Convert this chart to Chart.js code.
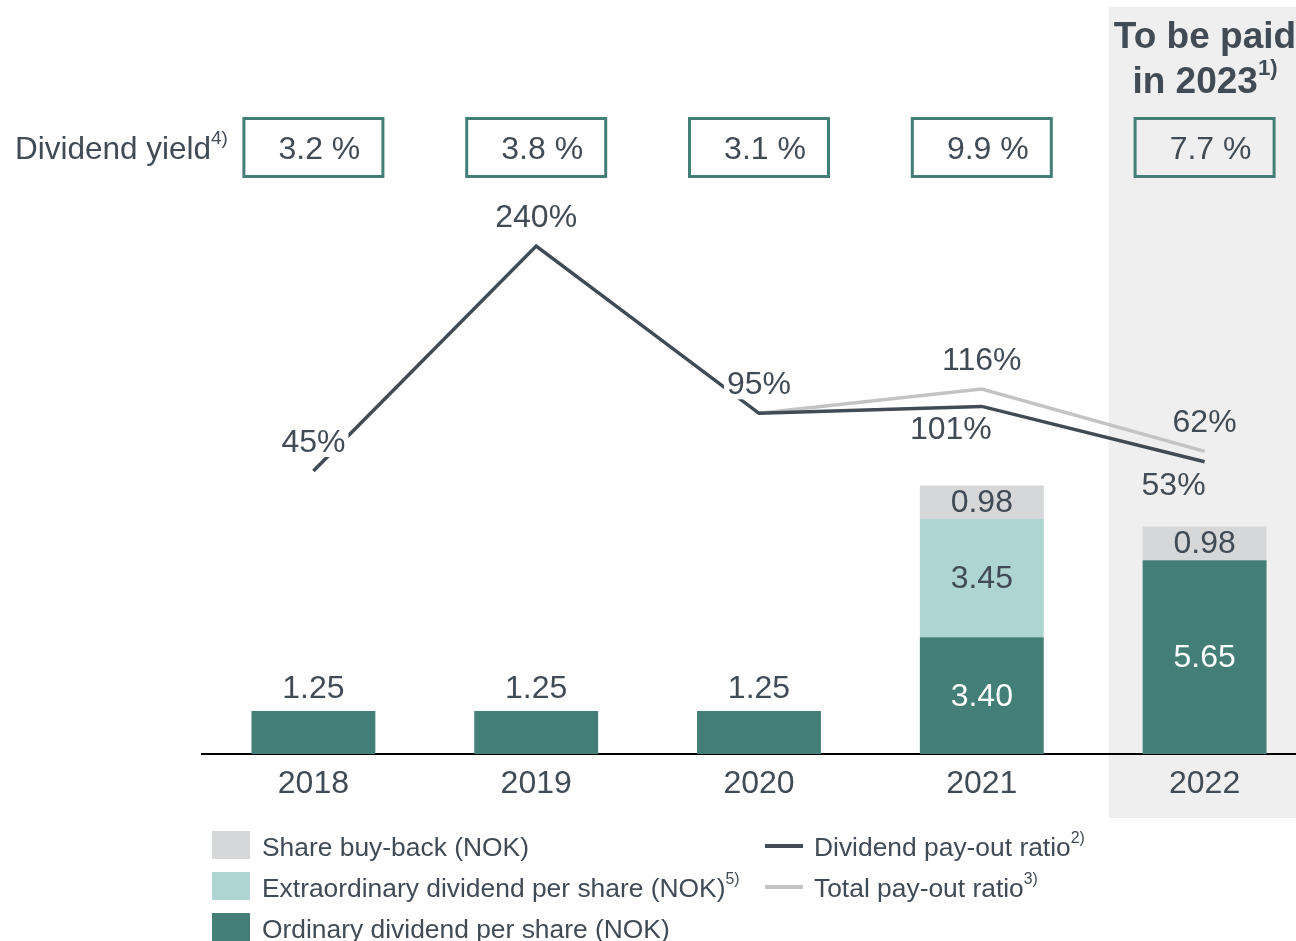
<!DOCTYPE html>
<html>
<head>
  <meta charset="utf-8">
  <title>Dividend history</title>
  <script src="https://cdn.jsdelivr.net/npm/chart.js"></script>
  <style>
    body { margin: 0; overflow: hidden; background: #fff; font-family: "Liberation Sans", Arial, sans-serif; color: #414b55; }
    #wrap { position: relative; width: 1320px; height: 941px; }
    #chart { position: absolute; left: 0; top: 0; }
    .txt { position: absolute; white-space: nowrap; }
    sup { font-size: 60%; vertical-align: 0; position: relative; top: -0.8em; line-height: 0; }
    #yieldLabel { left: 15px; top: 130px; font-size: 31.5px; line-height: 36px; }
    #title { left: 1055px; width: 300px; top: 13px; text-align: center; font-size: 37px; line-height: 45px; font-weight: bold; }
    .leg { position: absolute; font-size: 26.4px; line-height: 30px; white-space: nowrap; }
    .sw { position: absolute; }
  </style>
</head>
<body>
  <div id="wrap">
    <canvas id="chart" width="1320" height="941"></canvas>
    <div class="txt" id="yieldLabel">Dividend yield<sup>4)</sup></div>
    <div class="txt" id="title">To be paid<br>in 2023<sup>1)</sup></div>
    <div id="legend"></div>
  </div>
  <script>
    const years = ["2018", "2019", "2020", "2021", "2022"];
    const ordinaryDividend = [1.25, 1.25, 1.25, 3.40, 5.65];
    const extraDividend = [null, null, null, 3.45, null];
    const shareBuyBack = [null, null, null, 0.98, 0.98];
    const dividendPayout = [45, 240, 95, 101, 53];
    const totalPayout = [null, null, 95, 116, 62];
    const dividendYield = [3.2, 3.8, 3.1, 9.9, 7.7];
    // where each ratio label goes relative to its point
    const dividendPayoutLabelPos = ["above", "above", "above", "belowLeft", "belowLeft"];
    const totalPayoutLabelPos = [null, null, null, "above", "above"];

    const TEAL = "#437f77";
    const LIGHT_TEAL = "#aed5d1";
    const GREY = "#d6d7d9";
    const DARK = "#414b55";
    const LINE_GREY = "#c3c3c3";
    const BAND = "#efefef";
    const FONT = '"Liberation Sans", Arial, sans-serif';

    const bandPlugin = {
      id: "band",
      beforeDraw(chart) {
        const ctx = chart.ctx;
        const x = chart.scales.x;
        const left = x.getPixelForValue(4) - 96;
        ctx.save();
        ctx.fillStyle = BAND;
        ctx.fillRect(left, 7, chart.width - left, 811);
        ctx.restore();
      }
    };

    const yieldBoxes = {
      id: "yieldBoxes",
      afterDraw(chart) {
        const ctx = chart.ctx;
        const x = chart.scales.x;
        ctx.save();
        ctx.strokeStyle = TEAL;
        ctx.lineWidth = 3;
        ctx.fillStyle = DARK;
        ctx.font = "32px " + FONT;
        ctx.textAlign = "center";
        ctx.textBaseline = "middle";
        dividendYield.forEach((v, i) => {
          const cx = x.getPixelForValue(i);
          ctx.strokeRect(cx - 69.5, 118.5, 139, 58);
          ctx.fillText(v.toFixed(1) + " %", cx + 6, 150);
        });
        ctx.restore();
      }
    };

    const valueLabels = {
      id: "valueLabels",
      afterDatasetsDraw(chart) {
        const ctx = chart.ctx;
        const bandLeft = chart.scales.x.getPixelForValue(4) - 96;
        const barSets = chart.data.datasets.filter(d => d.type === "bar");
        const stackTotal = i => barSets.reduce((s, d) => s + (d.data[i] || 0), 0);
        ctx.save();
        ctx.font = "32px " + FONT;
        ctx.textAlign = "center";
        ctx.textBaseline = "middle";
        chart.data.datasets.forEach((ds, di) => {
          const meta = chart.getDatasetMeta(di);
          meta.data.forEach((el, i) => {
            const v = ds.data[i];
            if (v === null) return;
            if (ds.type === "bar") {
              const p = el.getProps(["x", "y", "base"], true);
              if (stackTotal(i) < 2) {
                ctx.fillStyle = DARK;
                ctx.fillText(v.toFixed(2), p.x, p.y - 22);
              } else {
                ctx.fillStyle = ds.inside;
                ctx.fillText(v.toFixed(2), p.x, (p.y + p.base) / 2 + 1);
              }
            } else {
              const pos = ds.labelPos[i];
              if (!pos) return;
              const p = el.getProps(["x", "y"], true);
              let lx = p.x, ly = p.y - 28;
              if (pos === "belowLeft") { lx = p.x - 31; ly = p.y + 24; }
              const t = v + "%";
              const w = ctx.measureText(t).width;
              if (lx < bandLeft) {
                ctx.fillStyle = "#fff";
                ctx.fillRect(lx - w / 2 - 3, ly - 14, w + 6, 28);
              }
              ctx.fillStyle = DARK;
              ctx.fillText(t, lx, ly);
            }
          });
        });
        ctx.restore();
      }
    };

    const chart = new Chart(document.getElementById("chart").getContext("2d"), {
      data: {
        labels: years,
        datasets: [
          { type: "line", label: "Dividend pay-out ratio", note: "2)", data: dividendPayout, labelPos: dividendPayoutLabelPos,
            yAxisID: "y2", borderColor: DARK, borderWidth: 3.5, pointRadius: 0, order: 0 },
          { type: "line", label: "Total pay-out ratio", note: "3)", data: totalPayout, labelPos: totalPayoutLabelPos,
            yAxisID: "y2", borderColor: LINE_GREY, borderWidth: 3.5, pointRadius: 0, order: 1 },
          { type: "bar", label: "Ordinary dividend per share (NOK)", data: ordinaryDividend, backgroundColor: TEAL, inside: "#fff", order: 2 },
          { type: "bar", label: "Extraordinary dividend per share (NOK)", note: "5)", data: extraDividend, backgroundColor: LIGHT_TEAL, inside: DARK, order: 2 },
          { type: "bar", label: "Share buy-back (NOK)", data: shareBuyBack, backgroundColor: GREY, inside: DARK, order: 2 }
        ]
      },
      options: {
        responsive: false,
        animation: false,
        layout: { padding: { left: 202, right: 4, top: 200, bottom: 127 } },
        datasets: { bar: { categoryPercentage: 1, barPercentage: 0.556 } },
        plugins: { legend: { display: false }, tooltip: { enabled: false } },
        scales: {
          x: {
            stacked: true,
            offset: true,
            grid: { display: false },
            border: { color: "#000", width: 2 },
            ticks: { color: DARK, font: { size: 32, family: FONT }, padding: 3 },
            afterFit(s) { s.height = 60; }
          },
          y: { stacked: true, display: false, min: 0, max: 16.15 },
          y2: { display: false, min: -200.3, max: 279.9 }
        }
      },
      plugins: [bandPlugin, valueLabels, yieldBoxes]
    });

    // legend: bars in the left column (top to bottom reversed), lines on the right
    const legend = document.getElementById("legend");
    const ds = chart.data.datasets;
    const bars = ds.filter(d => d.type === "bar").reverse();
    const lines = ds.filter(d => d.type === "line");
    const label = d => d.label + (d.note ? "<sup>" + d.note + "</sup>" : "");
    bars.forEach((d, i) => {
      const top = 832 + i * 41;
      legend.insertAdjacentHTML("beforeend",
        `<div class="sw" style="left:212px;top:${top - 1}px;width:38px;height:28px;background:${d.backgroundColor}"></div>` +
        `<div class="leg" style="left:262px;top:${top}px">${label(d)}</div>`);
    });
    lines.forEach((d, i) => {
      const top = 832 + i * 41;
      legend.insertAdjacentHTML("beforeend",
        `<div class="sw" style="left:765px;top:${top + 12}px;width:38px;height:4px;background:${d.borderColor}"></div>` +
        `<div class="leg" style="left:814px;top:${top}px">${label(d)}</div>`);
    });
  </script>
</body>
</html>
